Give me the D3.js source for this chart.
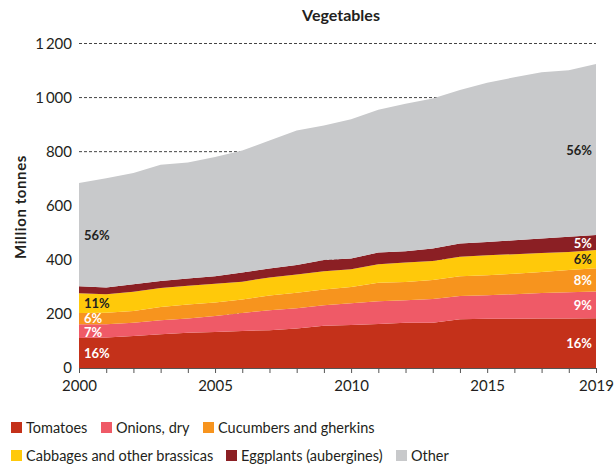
<!DOCTYPE html>
<html>
  <head>
    <script src="https://d3js.org/d3.v7.min.js"></script>
    <style>
      body { margin: 0; background: #fff; }
      text { font-family: Lato, "Open Sans", sans-serif; fill: #231f20; }
      .grid line { stroke: #444; stroke-dasharray: 3,2; }
      .pct { font-weight: bold; font-size: 13px; }
    </style>
  </head>
  <body>
    <script>

var years = d3.range(2000, 2020);
var tomatoes  = [111,113,118,125,130,133,137,140,146,156,159,163,167,167,180,182,182,183,183,184];
var onions    = [51,49,49,52,53,59,66,74,75,76,80,84,84,88,86,87,91,94,97,99];
var cucumbers = [41,42,44,49,52,50,50,54,57,58,61,68,67,70,73,74,76,78,82,86];
var cabbages  = [73,69,71,70,69,70,66,67,68,68,65,69,72,71,72,74,72,70,67,67];
var eggplants = [26,25,28,26,27,27,34,33,35,41,40,43,42,46,49,49,51,54,56,56];
var other     = [382,404,411,430,429,441,451,473,497,498,515,528,545,555,568,589,603,615,616,632];

var seriesNames = ["Tomatoes", "Onions, dry", "Cucumbers and gherkins", "Cabbages and other brassicas", "Eggplants (aubergines)", "Other"];
var colors = ["#c4311a", "#ef5a67", "#f7941e", "#ffc90a", "#8b1f24", "#c8c9cb"];
var startPct = ["16%", "7%", "6%", "11%", null, "56%"];
var endPct = ["16%", "9%", "8%", "6%", "5%", "56%"];
var yTicks = [0, 200, 400, 600, 800, 1000, 1200];
var xLabels = [2000, 2005, 2010, 2015, 2019];

var width = 616, height = 466;
var svg = d3.select("body").append("svg")
    .attr("width", width)
    .attr("height", height);

var x = d3.scaleLinear().domain([2000, 2019]).range([79, 596]);
var y = d3.scaleLinear().domain([0, 1200]).range([368, 43.5]);

var all = [tomatoes, onions, cucumbers, cabbages, eggplants, other];
var table = years.map(function(yr, i) {
  var row = { year: yr };
  all.forEach(function(s, k) { row["s" + k] = s[i]; });
  return row;
});
var stack = d3.stack().keys(all.map(function(s, k) { return "s" + k; }));
var layers = stack(table);

// title
svg.append("text").attr("x", 341).attr("y", 21).attr("text-anchor", "middle")
  .style("font-weight", "bold").style("font-size", "16px").text("Vegetables");

// gridlines
svg.append("g").attr("class", "grid").selectAll("line")
  .data(yTicks.slice(1)).enter().append("line")
  .attr("x1", x(2000)).attr("x2", x(2019))
  .attr("y1", function(d) { return y(d); }).attr("y2", function(d) { return y(d); });

var area = d3.area()
  .x(function(d) { return x(d.data.year); })
  .y0(function(d) { return y(d[0]); })
  .y1(function(d) { return y(d[1]); });

svg.selectAll(".layer").data(layers).enter().append("path")
  .attr("class", "layer")
  .attr("d", area)
  .attr("fill", function(d, i) { return colors[i]; });

// y axis labels
var yAxis = d3.axisLeft(y).tickValues(yTicks).tickSize(0).tickPadding(7)
  .tickFormat(function(d) { return d3.format(",")(d).replace(",", "\u2009"); });
var gy = svg.append("g").attr("transform", "translate(" + x(2000) + ",0)").call(yAxis);
gy.select(".domain").remove();
gy.selectAll("text").style("font-size", "15px").style("font-family", "Lato, sans-serif").attr("fill", "#231f20");

svg.append("text")
  .attr("transform", "translate(26," + 207 + ") rotate(-90)")
  .attr("text-anchor", "middle")
  .style("font-weight", "bold").style("font-size", "15px")
  .style("letter-spacing", "0.6px")
  .text("Million tonnes");

// x axis
var xAxis = d3.axisBottom(x).tickValues(years).tickSize(5).tickFormat(function(d) {
  return xLabels.indexOf(d) >= 0 ? d : "";
});
var gx = svg.append("g").attr("transform", "translate(0," + y(0) + ")").call(xAxis);
gx.select(".domain").attr("stroke", "#555");
gx.selectAll("line").attr("stroke", "#555");
gx.selectAll("text").style("font-size", "15px").style("font-family", "Lato, sans-serif")
  .attr("fill", "#231f20").attr("dy", "1.0em");

// percentage labels
var startNudge = [0, 1, -1, 0, 0, 0];
layers.forEach(function(layer, i) {
  var first = layer[0], last = layer[layer.length - 1];
  var dark = (i === 3 || i === 5);
  if (startPct[i]) {
    svg.append("text").attr("class", "pct")
      .attr("x", x(2000) + 5)
      .attr("y", y((first[0] + first[1]) / 2) + 5 + startNudge[i])
      .style("fill", dark ? "#231f20" : "#fff")
      .text(startPct[i]);
  }
  svg.append("text").attr("class", "pct")
    .attr("x", x(2019) - 4)
    .attr("text-anchor", "end")
    .attr("y", y((last[0] + last[1]) / 2) + 5)
    .style("fill", dark ? "#231f20" : "#fff")
    .text(endPct[i]);
});

// legend
var legendPos = [[11, 433], [101, 433], [203, 433], [11, 461], [226, 461], [396, 461]];
seriesNames.forEach(function(name, i) {
  var g = svg.append("g").attr("transform", "translate(" + legendPos[i][0] + "," + legendPos[i][1] + ")");
  g.append("rect").attr("x", 0).attr("y", -11).attr("width", 11).attr("height", 11).attr("fill", colors[i]);
  g.append("text").attr("x", 15).attr("y", 0).style("font-size", "14.5px").text(name);
});

</script>
  </body>
</html>
